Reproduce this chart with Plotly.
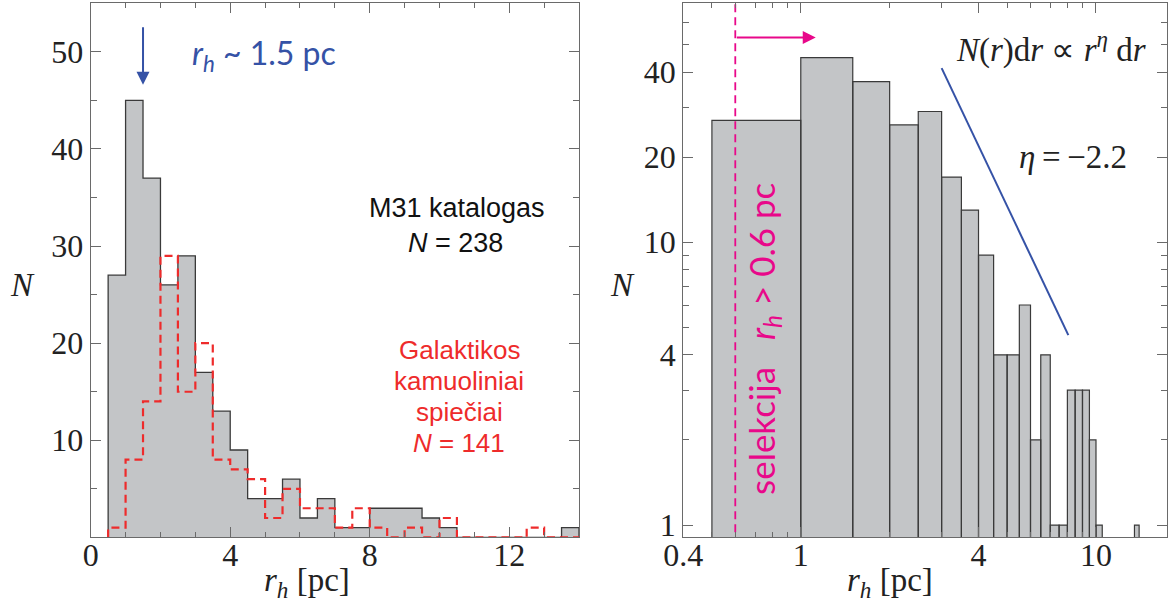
import numpy as np
import plotly.graph_objects as go

# ---- data -------------------------------------------------------------
# half-light radius bins [pc], 0.5 pc wide, 0.5 ... 14.0
bin_edges = [0.5, 1.0, 1.5, 2.0, 2.5, 3.0, 3.5, 4.0, 4.5, 5.0, 5.5, 6.0, 6.5, 7.0,
             7.5, 8.0, 8.5, 9.0, 9.5, 10.0, 10.5, 11.0, 11.5, 12.0, 12.5, 13.0,
             13.5, 14.0]
# M31 globular cluster catalogue
m31_counts = [27, 45, 37, 26, 29, 17, 13, 9, 4, 4, 6, 2, 4, 1, 1, 3, 3, 3, 2, 1,
              0, 0, 0, 0, 0, 0, 1]
# Milky Way globular clusters
mw_counts = [1, 8, 14, 29, 15, 20, 8, 7, 6, 2, 5, 3, 3, 1, 3, 1, 0, 1, 0, 2,
             0, 0, 0, 0, 1, 0, 0]
mw_total = 141

peak_rh = 1.5          # typical half-light radius [pc]
r_cut = 0.6            # selection threshold [pc]
eta = -2.2             # power-law slope
fit_x = [3.0, 8.06]    # extent of the power-law guide line [pc]
fit_y0 = 41.3          # guide line value at fit_x[0]

left_xticks = [0, 4, 8, 12]
left_yticks = [10, 20, 30, 40, 50]
right_xticks = [0.4, 1, 4, 10]
right_yticks = [1, 4, 10, 20, 40]

# ---- styling ----------------------------------------------------------
W, H = 1169, 610
SERIF = "Liberation Serif"
SANS = "Liberation Sans"
CALIB = "Lato"
GREY_FILL = "#c3c5c7"
EDGE = "#3a3a3a"
RED = "#ee2b2b"
BLUE = "#3552a6"
MAGENTA = "#e8088a"
SPINE = "#6a6a6a"


def px_x(p):
    return p / W


def px_y(p):
    return 1 - p / H


def step_xy(edges, counts):
    xs = [edges[0]] + list(edges[:-1]) + [edges[-1], edges[-1]]
    ys = [0] + list(counts) + [counts[-1], 0]
    return xs, ys


fig = go.Figure()

# left panel: filled step histogram for M31
sx, sy = step_xy(bin_edges, m31_counts)
fig.add_trace(go.Scatter(x=sx, y=sy, mode="lines", line_shape="hv",
                         fill="tozeroy", fillcolor=GREY_FILL,
                         line=dict(color=EDGE, width=1.3),
                         xaxis="x", yaxis="y", showlegend=False))
# left panel: dashed step histogram for the Galaxy
rx, ry = step_xy(bin_edges, mw_counts)
fig.add_trace(go.Scatter(x=rx, y=ry, mode="lines", line_shape="hv",
                         line=dict(color=RED, width=2.2, dash="8px,5px"),
                         xaxis="x", yaxis="y", showlegend=False))

# right panel: individual bars on log-log axes
bx, by = [], []
floor = 0.5
for lo, hi, c in zip(bin_edges[:-1], bin_edges[1:], m31_counts):
    if c <= 0:
        continue
    bx += [lo, lo, hi, hi, lo, None]
    by += [floor, c, c, floor, floor, None]
fig.add_trace(go.Scatter(x=bx, y=by, mode="lines", fill="toself",
                         fillcolor=GREY_FILL, line=dict(color=EDGE, width=1.2),
                         xaxis="x2", yaxis="y2", showlegend=False))

# selection threshold
fig.add_trace(go.Scatter(x=[r_cut, r_cut], y=[0.5, 100], mode="lines",
                         line=dict(color=MAGENTA, width=1.8, dash="8px,5px"),
                         xaxis="x2", yaxis="y2", showlegend=False))

# power-law guide line
gx = np.array(fit_x)
gy = fit_y0 * (gx / gx[0]) ** eta
fig.add_trace(go.Scatter(x=gx, y=gy, mode="lines",
                         line=dict(color=BLUE, width=2),
                         xaxis="x2", yaxis="y2", showlegend=False))

tickfont = dict(family=SERIF, size=32, color="#222")
common = dict(showline=True, linecolor=SPINE, linewidth=1.3, mirror="ticks",
              ticks="inside", tickcolor=SPINE, tickwidth=1.2, ticklen=10,
              showgrid=False, zeroline=False, tickfont=tickfont,
              automargin=False)

y_dom = [px_y(537.4), px_y(3.3)]

fig.update_layout(
    width=W, height=H, margin=dict(l=0, r=0, t=0, b=0),
    paper_bgcolor="white", plot_bgcolor="white",
    xaxis=dict(domain=[px_x(90.7), px_x(579)], range=[0, 14],
               tickvals=left_xticks, ticktext=[str(v) for v in left_xticks],
               minor=dict(tickvals=list(range(1, 14)), ticks="inside",
                          ticklen=5, tickcolor=SPINE, tickwidth=1.1),
               ticklabelstandoff=-11, anchor="y", **common),
    yaxis=dict(domain=y_dom, range=[0, 55],
               tickvals=left_yticks, ticktext=[str(v) for v in left_yticks],
               minor=dict(tickvals=[5, 15, 25, 35, 45], ticks="inside",
                          ticklen=6, tickcolor=SPINE, tickwidth=1.1),
               anchor="x", **common),
    xaxis2=dict(domain=[px_x(683.3), px_x(1167)], type="log",
                range=[np.log10(0.4), np.log10(17.4)],
                tickvals=right_xticks, ticktext=["0.4", "1", "4", "10"],
                minor=dict(tickvals=[0.5, 0.6, 0.7, 0.8, 0.9, 2, 3, 5, 6, 7, 8, 9],
                           ticks="inside", ticklen=5, tickcolor=SPINE, tickwidth=1.1),
                ticklabelstandoff=-11, anchor="y2", **common),
    yaxis2=dict(domain=y_dom, type="log", range=[-0.0435, 1.845],
                tickvals=right_yticks, ticktext=[str(v) for v in right_yticks],
                minor=dict(tickvals=[2, 3, 5, 6, 7, 8, 9, 30, 50, 60],
                           ticks="inside", ticklen=6, tickcolor=SPINE, tickwidth=1.1),
                anchor="x2", **common),
)

ann = []


def label(text, x, y, font, **kw):
    d = dict(text=text, x=px_x(x), y=px_y(y), xref="paper", yref="paper",
             showarrow=False, font=font, xanchor="center", yanchor="middle")
    d.update(kw)
    ann.append(d)


axis_title_font = dict(family=SERIF, size=33, color="#222")
label("<i>N</i>", 22, 285, axis_title_font)
label("<i>N</i>", 622, 285, axis_title_font)
label("<i>r</i><sub><i>h</i></sub> [pc]", 307, 582, axis_title_font)
label("<i>r</i><sub><i>h</i></sub> [pc]", 890, 582, axis_title_font)

# left panel texts
label(f"<i>r</i><sub><i>h</i></sub> ~ {peak_rh} pc", 190, 55,
      dict(family=CALIB, size=32, color=BLUE), xanchor="left")
black = dict(family=SANS, size=27, color="#111")
label("M31 katalogas", 457, 208, black)
label(f"<i>N</i> = {sum(m31_counts)}", 455, 243, black)
red = dict(family=SANS, size=26, color=RED)
label("Galaktikos", 459, 350, red)
label("kamuoliniai", 459, 381, red)
label("spiečiai", 459, 412, red)
label(f"<i>N</i> = {mw_total}", 459, 443, red)

# right panel texts
serif_txt = dict(family=SERIF, size=33, color="#222")
label("<i>N</i>(<i>r</i>)d<i>r</i> ∝ <i>r</i><sup><i>η</i></sup> d<i>r</i>",
      1051, 47, serif_txt)
label(f"<i>η</i>\u2009=\u2009−{abs(eta)}", 1073, 157, serif_txt)
label("selekcija\u00a0\u00a0 <i>r</i><sub><i>h</i></sub> > 0.6 pc", 763, 339,
      dict(family=CALIB, size=35, color=MAGENTA), textangle=-90)

# arrows
ann.append(dict(x=peak_rh, y=46.6, ax=peak_rh, ay=52.7, xref="x", yref="y",
                axref="x", ayref="y", showarrow=True, arrowhead=2,
                arrowsize=1.3, arrowwidth=2, arrowcolor=BLUE, text=""))
ann.append(dict(x=np.log10(1.124), y=np.log10(53), ax=np.log10(r_cut),
                ay=np.log10(53), xref="x2", yref="y2", axref="x2", ayref="y2",
                showarrow=True, arrowhead=2, arrowsize=1.3, arrowwidth=2,
                arrowcolor=MAGENTA, text=""))

fig.update_layout(annotations=ann)
fig.write_html("out.html")
